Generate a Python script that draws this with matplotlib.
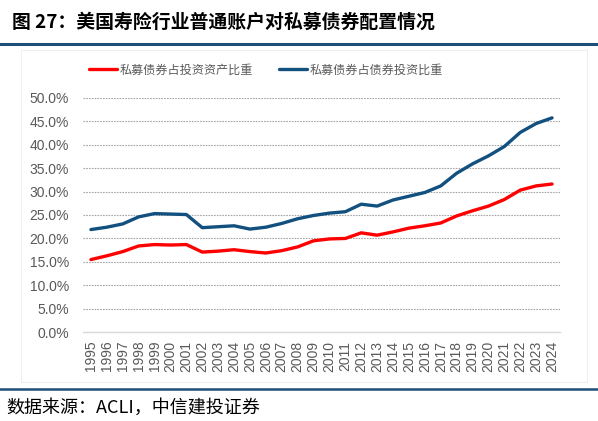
import matplotlib
matplotlib.use('Agg')
import matplotlib.pyplot as plt
from matplotlib.lines import Line2D
from matplotlib.patches import Rectangle
from matplotlib.ticker import PercentFormatter

plt.rcParams['font.family'] = ['Liberation Sans', 'Noto Sans CJK SC', 'DejaVu Sans']

years = [str(y) for y in range(1995, 2025)]

# 私募债券占投资资产比重 (%)
share_assets = [15.5, 16.3, 17.2, 18.4, 18.7, 18.6, 18.7, 17.1, 17.3, 17.6,
                17.2, 16.9, 17.4, 18.2, 19.5, 19.9, 20.0, 21.2, 20.7, 21.4,
                22.2, 22.7, 23.3, 24.8, 25.9, 26.9, 28.3, 30.3, 31.2, 31.6]
# 私募债券占债券投资比重 (%)
share_bonds = [21.9, 22.4, 23.1, 24.6, 25.3, 25.2, 25.1, 22.3, 22.5, 22.7,
               22.0, 22.4, 23.2, 24.2, 24.9, 25.4, 25.7, 27.3, 26.9, 28.2,
               29.0, 29.8, 31.2, 33.9, 35.9, 37.6, 39.6, 42.6, 44.5, 45.7]

label_assets = '私募债券占投资资产比重'
label_bonds = '私募债券占债券投资比重'
title = '图 27：美国寿险行业普通账户对私募债券配置情况'
source = '数据来源：ACLI，中信建投证券'

red = '#FF0000'
blue = '#11507F'
grey = '#595959'
navy = '#1F4E79'

fig = plt.figure(figsize=(5.98, 4.21), dpi=100, facecolor='white')

# faint chart frame
fig.add_artist(Rectangle((21 / 598, 1 - 382 / 421), 566 / 598, 332 / 421,
                         fill=False, ec='#EFEFEF', lw=0.8))

# title and rules
fig.text(12 / 598, 1 - 22 / 421, title, fontsize=13.6, fontweight='bold',
         family=['Noto Sans CJK SC', 'DejaVu Sans'], va='center', ha='left', color='black')
fig.add_artist(Line2D([0.0, 1.0], [1 - 44 / 421] * 2, color=navy, lw=2.2))
fig.add_artist(Line2D([0.0, 1.0], [1 - 389 / 421] * 2, color=navy, lw=1.8))
fig.text(6 / 598, 1 - 408 / 421, source, fontsize=13, style='italic',
         family=['Noto Sans CJK SC', 'DejaVu Sans'], va='center', ha='left', color='black')

ax = fig.add_axes([83 / 598, 88.7 / 421, 477 / 598, 234.6 / 421])
x = range(len(years))
ax.plot(x, share_assets, color=red, lw=2.4, label=label_assets, solid_capstyle='round')
ax.plot(x, share_bonds, color=blue, lw=2.4, label=label_bonds, solid_capstyle='round')

ax.set_xlim(-0.5, len(years) - 0.5)
ax.set_ylim(0, 50)
ax.set_yticks(range(0, 51, 5))
ax.yaxis.set_major_formatter(PercentFormatter(decimals=1))
ax.set_xticks(list(x))
ax.set_xticklabels(years, rotation=90)
ax.tick_params(axis='both', length=0, labelsize=10, labelcolor=grey)
ax.tick_params(axis='y', pad=10)
ax.tick_params(axis='x', pad=6)

ax.grid(axis='y', color='#A6A6A6', lw=0.8, ls=(0, (1.5, 1)))
ax.set_axisbelow(True)
for s in ['top', 'right', 'left']:
    ax.spines[s].set_visible(False)
ax.spines['bottom'].set_color('#D9D9D9')
ax.spines['bottom'].set_linewidth(1.0)

leg = fig.legend(loc='center', bbox_to_anchor=(0.445, 1 - 70 / 421), ncol=2,
                 frameon=False, handlelength=2.3, handletextpad=0.2, columnspacing=2.2,
                 prop={'family': ['Noto Sans CJK SC'], 'size': 8.7})
for t in leg.get_texts():
    t.set_color(grey)

fig.savefig('out.png', dpi=100, facecolor='white')
